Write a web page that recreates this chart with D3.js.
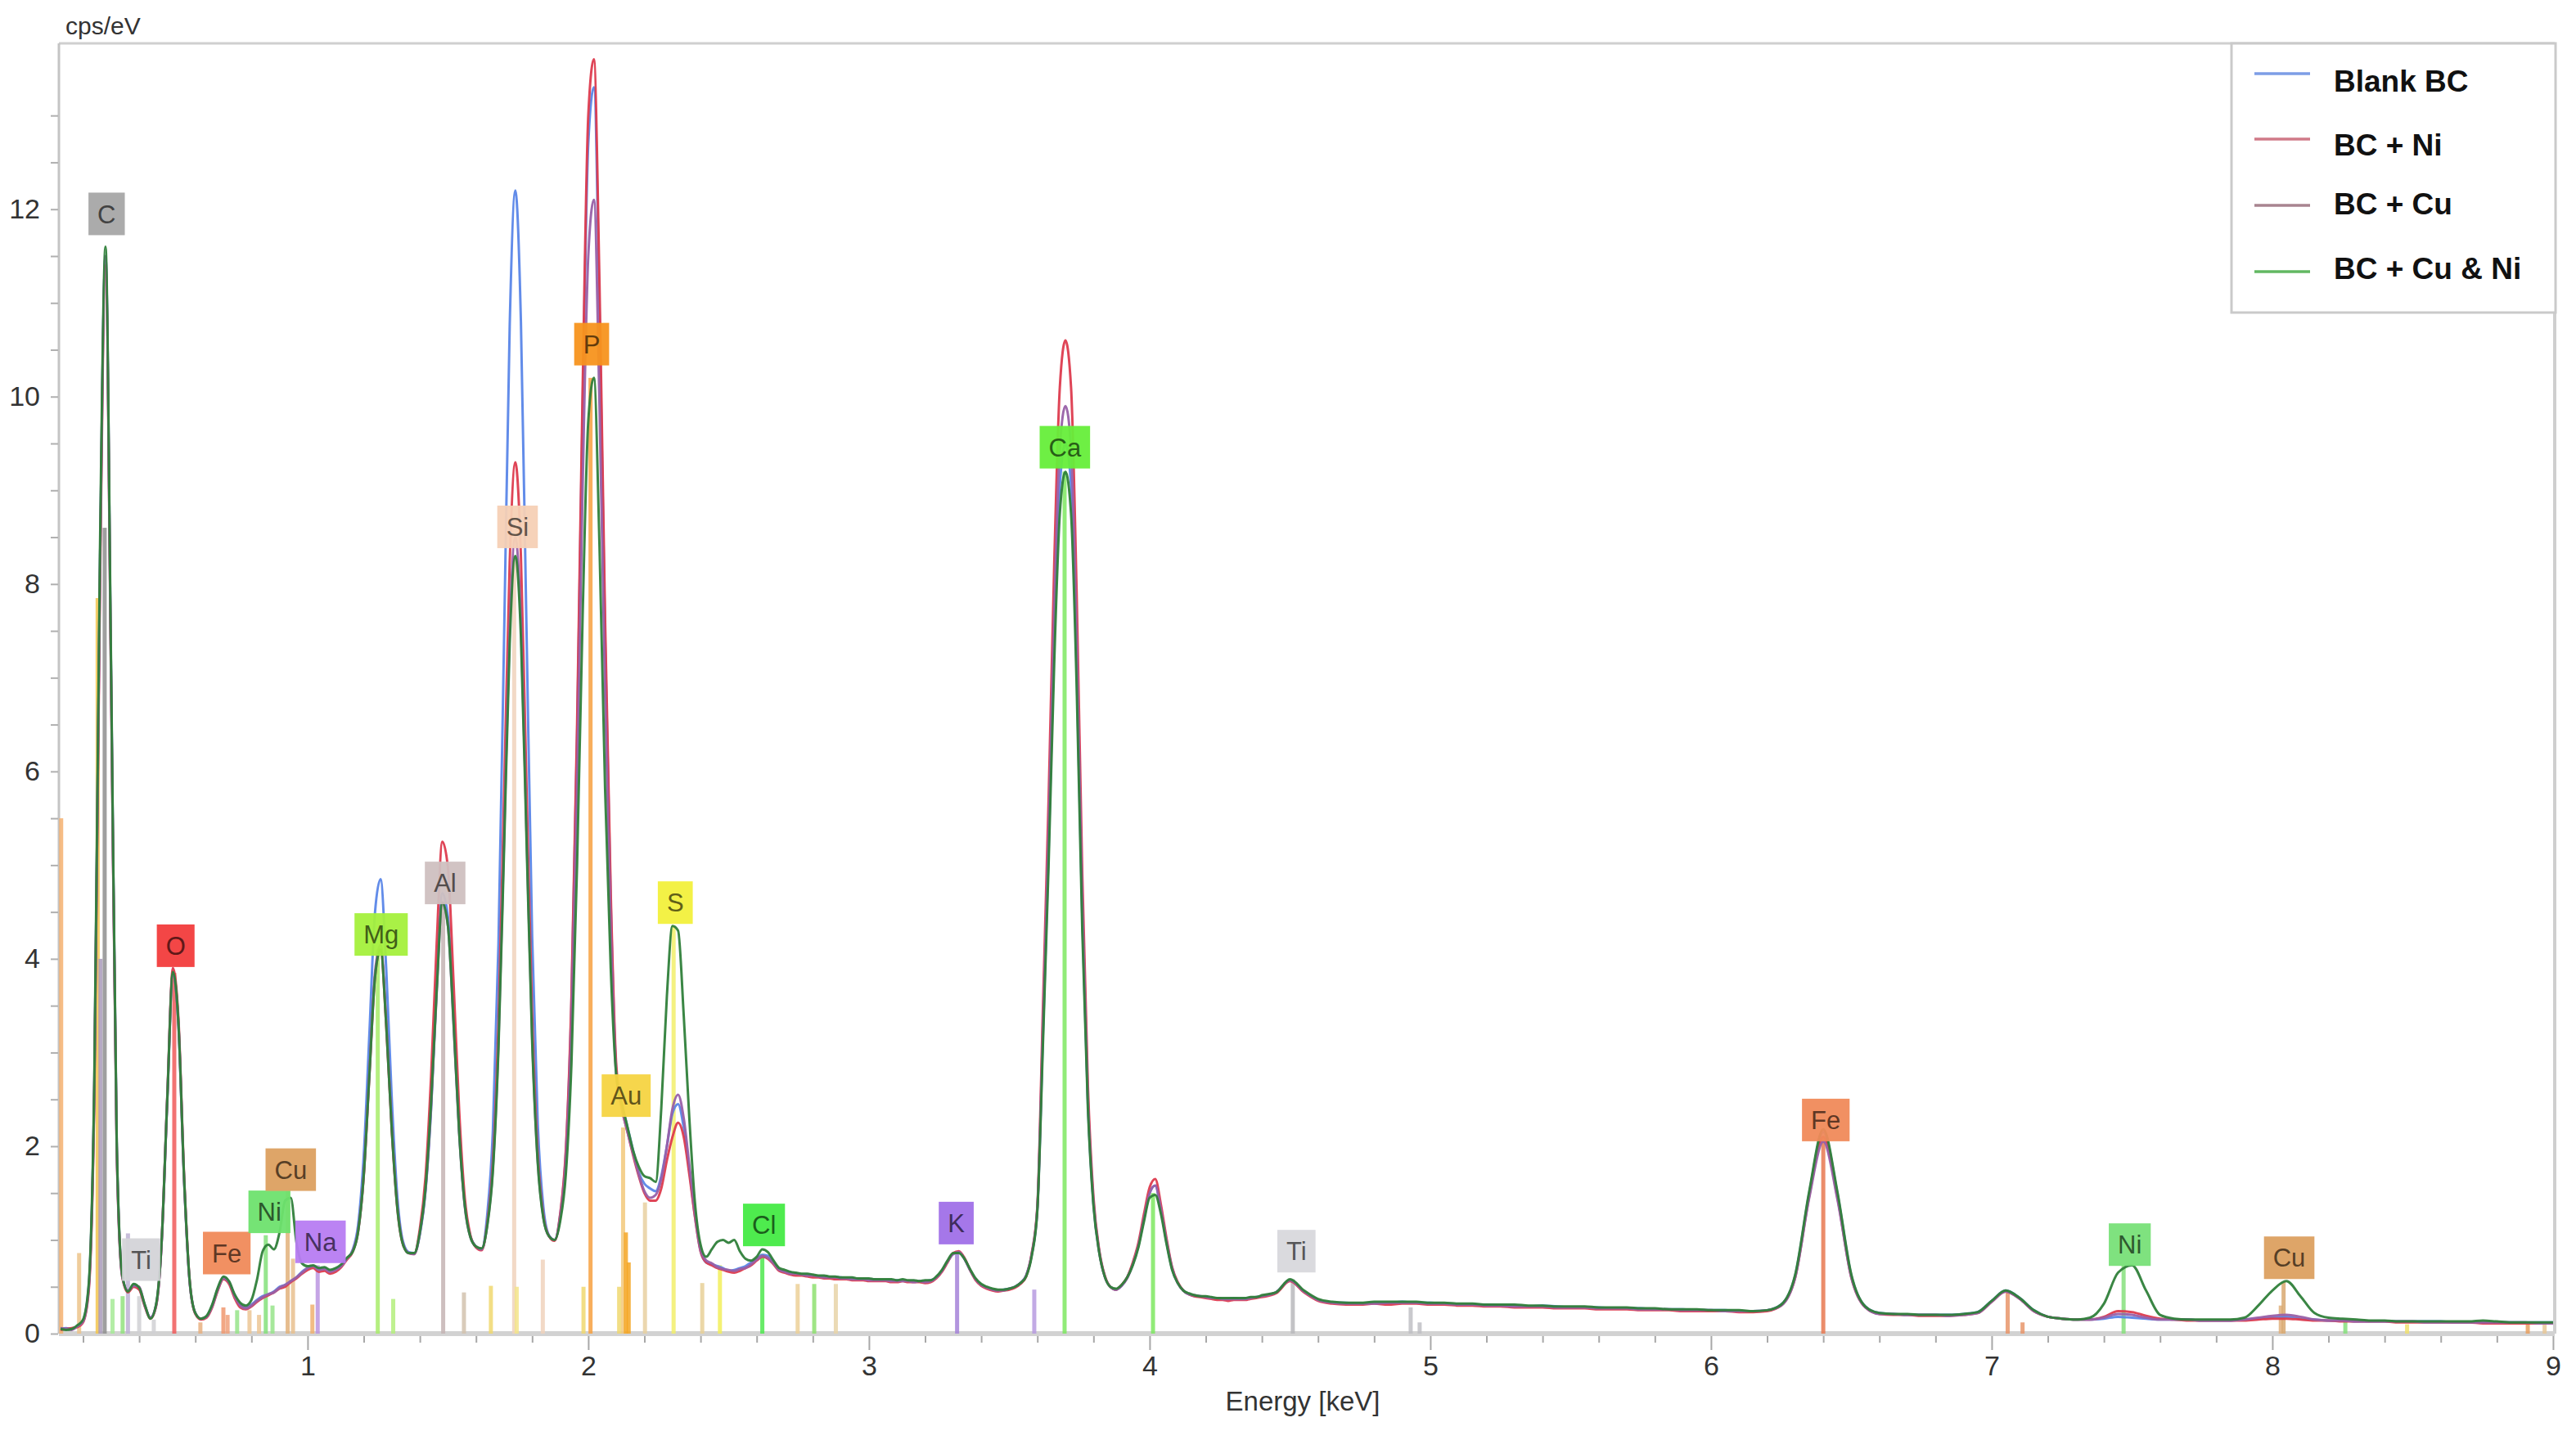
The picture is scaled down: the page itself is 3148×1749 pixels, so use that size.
<!DOCTYPE html>
<html><head><meta charset="utf-8">
<script src="https://cdn.jsdelivr.net/npm/d3@7"></script>
<style>
body{margin:0;background:#fff;}
svg{display:block;}
text{font-family:"Liberation Sans",Arial,sans-serif;}
</style>
</head><body>
<svg id="chart" width="3148" height="1749"></svg>
<script>
// ---------------- DATA ----------------
const energy = [
0.12,0.14,0.16,0.18,0.20,0.22,0.24,0.26,0.28,0.30,
0.32,0.34,0.36,0.38,0.40,0.42,0.44,0.46,0.48,0.50,
0.52,0.54,0.56,0.58,0.60,0.62,0.64,0.66,0.68,0.70,
0.72,0.74,0.76,0.78,0.80,0.82,0.84,0.86,0.88,0.90,
0.92,0.94,0.96,0.98,1.00,1.02,1.04,1.06,1.08,1.10,
1.12,1.14,1.16,1.18,1.20,1.22,1.24,1.26,1.28,1.30,
1.32,1.34,1.36,1.38,1.40,1.42,1.44,1.46,1.48,1.50,
1.52,1.54,1.56,1.58,1.60,1.62,1.64,1.66,1.68,1.70,
1.72,1.74,1.76,1.78,1.80,1.82,1.84,1.86,1.88,1.90,
1.92,1.94,1.96,1.98,2.00,2.02,2.04,2.06,2.08,2.10,
2.12,2.14,2.16,2.18,2.20,2.22,2.24,2.26,2.28,2.30,
2.32,2.34,2.36,2.38,2.40,2.42,2.44,2.46,2.48,2.50,
2.52,2.54,2.56,2.58,2.60,2.62,2.64,2.66,2.68,2.70,
2.72,2.74,2.76,2.78,2.80,2.82,2.84,2.86,2.88,2.90,
2.92,2.94,2.96,2.98,3.00,3.02,3.04,3.06,3.08,3.10,
3.12,3.14,3.16,3.18,3.20,3.22,3.24,3.26,3.28,3.30,
3.32,3.34,3.36,3.38,3.40,3.42,3.44,3.46,3.48,3.50,
3.52,3.54,3.56,3.58,3.60,3.62,3.64,3.66,3.68,3.70,
3.72,3.74,3.76,3.78,3.80,3.82,3.84,3.86,3.88,3.90,
3.92,3.94,3.96,3.98,4.00,4.02,4.04,4.06,4.08,4.10,
4.12,4.14,4.16,4.18,4.20,4.22,4.24,4.26,4.28,4.30,
4.32,4.34,4.36,4.38,4.40,
4.45,4.50,4.55,4.60,4.65,4.70,4.75,4.80,4.85,4.90,
4.95,5.00,5.05,5.10,5.15,5.20,5.25,5.30,5.35,5.40,
5.45,5.50,5.55,5.60,5.65,5.70,5.75,5.80,5.85,5.90,
5.95,6.00,6.05,6.10,6.15,6.20,6.25,6.30,6.35,6.40,
6.45,6.50,6.55,6.60,6.65,6.70,6.75,6.80,6.85,6.90,
6.95,7.00,7.05,7.10,7.15,7.20,7.25,7.30,7.35,7.40,
7.45,7.50,7.55,7.60,7.65,7.70,7.75,7.80,7.85,7.90,
7.95,8.00,8.05,8.10,8.15,8.20,8.25,8.30,8.35,8.40,
8.45,8.50,8.55,8.60,8.65,8.70,8.75,8.80,8.85,8.90,
8.95,9.00];

const blankBC = [
0.05,0.06,0.05,0.08,0.14,0.5,2.6,8.1,11.5,7.0,
2.0,0.62,0.45,0.52,0.48,0.3,0.17,0.3,0.98,2.5,
3.85,3.3,1.65,0.55,0.22,0.16,0.18,0.3,0.48,0.6,
0.55,0.41,0.31,0.28,0.31,0.36,0.4,0.42,0.45,0.5,
0.52,0.56,0.6,0.66,0.7,0.72,0.69,0.7,0.67,0.69,
0.73,0.8,0.89,1.16,1.9,3.19,4.49,4.85,3.9,2.5,
1.45,0.98,0.87,0.86,1.06,1.52,2.4,3.72,4.7,4.45,
3.38,2.18,1.38,1.04,0.93,0.9,1.27,2.16,4.16,7.42,
10.75,12.2,10.8,7.5,4.24,2.24,1.35,1.05,1.0,1.27,
1.93,3.52,6.34,9.9,12.7,13.3,10.9,7.4,4.6,2.8,
2.45,2.2,1.95,1.72,1.6,1.55,1.52,1.68,2.0,2.35,
2.45,2.2,1.75,1.25,0.88,0.76,0.74,0.72,0.7,0.67,
0.68,0.7,0.72,0.76,0.8,0.84,0.83,0.76,0.68,0.66,
0.65,0.64,0.63,0.63,0.62,0.61,0.61,0.6,0.6,0.6,
0.59,0.59,0.58,0.58,0.58,0.58,0.57,0.57,0.57,0.57,
0.57,0.56,0.56,0.56,0.56,0.57,0.6,0.67,0.77,0.85,
0.87,0.8,0.68,0.58,0.52,0.49,0.47,0.46,0.47,0.48,
0.5,0.54,0.62,0.84,1.33,3.2,5.15,7.4,9.05,9.5,
9.05,7.1,4.45,2.45,1.38,0.88,0.61,0.5,0.47,0.51,
0.6,0.74,0.94,1.23,1.5,1.58,1.32,0.98,0.69,0.54,
0.46,0.42,0.4,0.4,0.39,0.38,0.38,0.37,0.37,0.38,
0.37,0.38,0.38,0.39,0.4,
0.44,0.57,0.45,0.36,0.33,0.33,0.32,0.33,0.33,0.34,
0.33,0.33,0.32,0.31,0.31,0.31,0.3,0.3,0.29,0.3,
0.29,0.28,0.28,0.28,0.27,0.27,0.27,0.26,0.26,0.26,
0.25,0.25,0.25,0.24,0.24,0.25,0.31,0.62,1.5,2.15,
1.5,0.62,0.29,0.22,0.21,0.2,0.2,0.2,0.2,0.21,
0.23,0.35,0.46,0.38,0.25,0.18,0.16,0.15,0.15,0.16,
0.18,0.17,0.16,0.15,0.15,0.15,0.14,0.14,0.14,0.15,
0.16,0.17,0.18,0.16,0.15,0.14,0.14,0.13,0.13,0.13,
0.13,0.13,0.13,0.13,0.12,0.12,0.12,0.12,0.12,0.12,
0.12,0.12];

const bcNi = [
0.04,0.05,0.06,0.07,0.12,0.45,2.5,7.9,11.4,6.9,
1.95,0.6,0.44,0.5,0.47,0.29,0.16,0.29,0.98,2.52,
3.9,3.35,1.68,0.56,0.21,0.15,0.17,0.28,0.46,0.58,
0.53,0.38,0.28,0.26,0.29,0.34,0.38,0.41,0.44,0.48,
0.5,0.55,0.59,0.64,0.68,0.7,0.66,0.67,0.64,0.66,
0.71,0.79,0.87,1.09,1.68,2.75,3.8,4.1,3.3,2.17,
1.33,0.95,0.86,0.85,1.12,1.67,2.75,4.17,5.25,4.97,
3.75,2.38,1.45,1.05,0.92,0.89,1.18,1.84,3.33,5.75,
8.23,9.3,8.3,5.83,3.41,1.92,1.26,1.04,0.99,1.28,
1.96,3.58,6.47,10.1,13.0,13.6,11.2,7.6,4.7,2.85,
2.4,2.15,1.9,1.68,1.5,1.42,1.42,1.55,1.85,2.1,
2.25,2.1,1.7,1.25,0.88,0.76,0.73,0.7,0.68,0.66,
0.65,0.67,0.7,0.73,0.78,0.82,0.8,0.74,0.67,0.65,
0.63,0.62,0.62,0.61,0.6,0.6,0.59,0.59,0.58,0.58,
0.58,0.57,0.57,0.57,0.56,0.56,0.56,0.56,0.55,0.55,
0.56,0.55,0.55,0.55,0.54,0.55,0.59,0.66,0.76,0.86,
0.88,0.81,0.68,0.57,0.51,0.48,0.46,0.45,0.46,0.47,
0.49,0.53,0.61,0.86,1.36,3.5,5.7,8.2,10.1,10.6,
10.1,7.9,4.9,2.65,1.45,0.9,0.62,0.5,0.47,0.52,
0.6,0.76,0.97,1.28,1.56,1.65,1.38,1.02,0.71,0.55,
0.46,0.42,0.4,0.39,0.38,0.37,0.36,0.36,0.35,0.36,
0.36,0.36,0.37,0.38,0.39,
0.43,0.56,0.44,0.35,0.32,0.31,0.31,0.32,0.31,0.32,
0.32,0.31,0.31,0.3,0.3,0.29,0.29,0.28,0.28,0.28,
0.27,0.27,0.27,0.26,0.26,0.26,0.25,0.25,0.25,0.24,
0.24,0.24,0.24,0.23,0.23,0.24,0.3,0.6,1.47,2.1,
1.46,0.6,0.28,0.21,0.2,0.2,0.19,0.19,0.19,0.2,
0.22,0.34,0.45,0.37,0.24,0.18,0.16,0.15,0.15,0.18,
0.24,0.23,0.19,0.16,0.15,0.14,0.14,0.14,0.14,0.14,
0.15,0.16,0.16,0.15,0.14,0.14,0.13,0.13,0.13,0.13,
0.12,0.12,0.12,0.12,0.12,0.12,0.11,0.11,0.11,0.11,
0.11,0.11];

const bcCu = [
0.06,0.05,0.04,0.08,0.13,0.48,2.6,8.1,11.5,7.0,
2.0,0.6,0.46,0.51,0.5,0.3,0.17,0.3,0.97,2.48,
3.84,3.28,1.64,0.55,0.22,0.16,0.18,0.29,0.47,0.59,
0.55,0.4,0.3,0.27,0.3,0.35,0.39,0.42,0.44,0.49,
0.52,0.56,0.6,0.65,0.7,0.72,0.68,0.69,0.66,0.68,
0.72,0.8,0.88,1.1,1.7,2.78,3.85,4.15,3.35,2.2,
1.35,0.96,0.86,0.85,1.07,1.53,2.42,3.65,4.6,4.35,
3.3,2.14,1.36,1.03,0.93,0.9,1.16,1.76,3.1,5.29,
7.53,8.5,7.6,5.37,3.18,1.84,1.24,1.04,1.0,1.24,
1.84,3.28,5.82,9.05,11.5,12.1,9.9,6.8,4.3,2.75,
2.4,2.15,1.92,1.7,1.52,1.45,1.48,1.65,2.0,2.4,
2.55,2.3,1.8,1.3,0.9,0.78,0.75,0.71,0.69,0.68,
0.67,0.69,0.7,0.74,0.79,0.83,0.81,0.75,0.68,0.66,
0.64,0.64,0.63,0.62,0.62,0.61,0.6,0.6,0.6,0.59,
0.59,0.58,0.58,0.58,0.57,0.57,0.57,0.57,0.56,0.56,
0.56,0.56,0.55,0.56,0.55,0.56,0.6,0.67,0.77,0.85,
0.87,0.8,0.68,0.58,0.52,0.49,0.47,0.46,0.46,0.48,
0.5,0.54,0.62,0.85,1.34,3.3,5.35,7.7,9.45,9.9,
9.45,7.4,4.6,2.5,1.4,0.88,0.61,0.5,0.47,0.51,
0.59,0.74,0.94,1.23,1.5,1.58,1.33,0.99,0.7,0.54,
0.46,0.42,0.41,0.4,0.39,0.38,0.38,0.37,0.37,0.37,
0.37,0.37,0.38,0.39,0.4,
0.44,0.57,0.45,0.36,0.33,0.32,0.32,0.32,0.33,0.33,
0.33,0.32,0.32,0.31,0.31,0.3,0.3,0.29,0.29,0.29,
0.28,0.28,0.28,0.27,0.27,0.27,0.26,0.26,0.26,0.25,
0.25,0.25,0.24,0.24,0.24,0.25,0.3,0.6,1.45,2.05,
1.44,0.6,0.28,0.21,0.21,0.2,0.2,0.2,0.19,0.2,
0.22,0.34,0.45,0.37,0.24,0.18,0.16,0.15,0.15,0.17,
0.21,0.2,0.17,0.15,0.15,0.15,0.14,0.14,0.14,0.15,
0.17,0.19,0.2,0.18,0.15,0.14,0.14,0.13,0.13,0.13,
0.13,0.13,0.12,0.12,0.12,0.12,0.12,0.12,0.12,0.12,
0.11,0.11];

const bcCuNi = [
0.05,0.04,0.05,0.09,0.15,0.52,2.7,8.3,11.6,7.1,
2.05,0.62,0.45,0.53,0.49,0.31,0.16,0.31,0.99,2.5,
3.86,3.3,1.66,0.56,0.22,0.16,0.19,0.31,0.49,0.61,
0.56,0.42,0.33,0.3,0.36,0.58,0.88,0.95,0.9,1.08,
1.42,1.45,0.98,0.75,0.72,0.73,0.7,0.71,0.68,0.7,
0.74,0.81,0.87,1.09,1.69,2.75,3.8,4.1,3.3,2.17,
1.33,0.95,0.86,0.86,1.08,1.55,2.47,3.67,4.6,4.35,
3.33,2.15,1.37,1.03,0.93,0.91,1.15,1.73,3.04,5.17,
7.36,8.3,7.44,5.26,3.12,1.82,1.23,1.04,1.0,1.2,
1.7,2.88,4.99,7.67,9.74,10.2,8.4,5.8,3.9,2.75,
2.45,2.2,1.95,1.78,1.68,1.66,1.62,2.4,3.6,4.35,
4.3,3.4,2.3,1.4,0.95,0.82,0.9,0.98,1.0,0.97,
1.0,0.88,0.8,0.78,0.82,0.9,0.87,0.78,0.7,0.68,
0.66,0.65,0.64,0.64,0.63,0.62,0.62,0.61,0.61,0.6,
0.6,0.6,0.59,0.59,0.59,0.58,0.58,0.58,0.58,0.57,
0.58,0.57,0.57,0.56,0.57,0.57,0.61,0.68,0.78,0.86,
0.86,0.8,0.69,0.59,0.53,0.5,0.48,0.47,0.47,0.48,
0.5,0.54,0.61,0.83,1.32,3.1,5.0,7.15,8.75,9.2,
8.75,6.9,4.3,2.4,1.36,0.87,0.61,0.5,0.48,0.52,
0.6,0.73,0.92,1.2,1.45,1.48,1.28,0.96,0.68,0.54,
0.46,0.43,0.41,0.4,0.4,0.39,0.38,0.38,0.38,0.38,
0.38,0.38,0.39,0.39,0.41,
0.44,0.58,0.46,0.37,0.34,0.33,0.33,0.34,0.34,0.34,
0.34,0.33,0.33,0.32,0.32,0.31,0.31,0.31,0.3,0.3,
0.29,0.29,0.29,0.28,0.28,0.28,0.27,0.27,0.26,0.26,
0.26,0.25,0.25,0.25,0.24,0.25,0.31,0.63,1.52,2.18,
1.52,0.63,0.29,0.22,0.21,0.21,0.2,0.2,0.2,0.21,
0.23,0.35,0.46,0.38,0.25,0.18,0.16,0.15,0.17,0.32,
0.65,0.73,0.46,0.2,0.16,0.15,0.15,0.15,0.15,0.17,
0.3,0.46,0.56,0.4,0.22,0.17,0.16,0.15,0.14,0.14,
0.13,0.13,0.13,0.13,0.13,0.13,0.14,0.13,0.12,0.12,
0.12,0.12];

const seriesNames  = ["Blank BC", "BC + Ni", "BC + Cu", "BC + Cu & Ni"];
const seriesColors = ["#5a86e8", "#dd3b4e", "#9860a8", "#2f7f3a"];
const legendColors = ["#7d9de6", "#d07a88", "#a88490", "#62b862"];

const yTickLabels = [0, 2, 4, 6, 8, 10, 12];
const xTickLabels = [1, 2, 3, 4, 5, 6, 7, 8, 9];

// element marker lines: energy (keV), height (cps/eV), colour
const markerEnergy = [0.122,0.186,0.252,0.262,0.277,0.305,0.341,0.36,0.40,0.452,
  0.525,0.618,0.70,0.715,0.749,0.793,0.827,0.851,0.875,0.929,
  0.948,1.017,1.036,1.25,1.305,1.483,1.557,1.653,1.736,1.745,
  1.838,1.983,2.008,2.11,2.124,2.134,2.144,2.202,2.304,2.406,
  2.469,2.62,2.746,2.805,2.882,3.314,3.589,3.697,4.012,4.51,
  4.93,4.962,6.40,7.057,7.11,7.47,8.03,8.04,8.26,8.48,
  8.91,8.97];
const markerHeight = [5.5,0.86,7.85,4.0,8.6,0.37,0.4,1.07,0.4,0.15,
  3.85,0.12,0.28,0.2,0.25,0.25,0.2,1.05,0.3,1.52,
  0.8,0.31,0.73,4.1,0.37,4.6,0.44,0.51,8.3,0.5,
  0.79,0.5,10.2,0.5,2.2,1.08,0.76,1.4,4.35,0.54,
  0.73,0.85,0.53,0.53,0.53,0.87,0.47,9.2,1.5,0.58,
  0.28,0.12,2.1,0.45,0.12,0.73,0.3,0.55,0.15,0.1,
  0.1,0.1];
const markerColor = ["#f4b070","#ecc38a","#f2c54e","#a99bbb","#8e8e8e","#a6ea96","#92e27e","#bdb2d3","#d0d0d4","#d0d0d4",
  "#f05a5a","#e8b080","#f0986e","#f0a07a","#96e48a","#ecc594","#ecc594","#84e07a","#96e48a","#e2b27a",
  "#e8c08e","#eeb070","#bb95e0","#a8ec6a","#b4ee7c","#c4b4b4","#d2c2ae","#f0d870","#f0d2bc","#f3e488",
  "#f0d2bc","#f0d870","#f7a040","#f0d870","#f2c87a","#f5a623","#f5a623","#e8d0a0","#f2ee6a","#e8d098",
  "#f2ee5a","#4ee84e","#ecd098","#8ee070","#e8d4a8","#a582d8","#b79be0","#7ee860","#7ee860","#b8b8bc",
  "#c0c0c4","#c0c0c4","#e87850","#e8956a","#e8956a","#86e07c","#e0b07c","#d8a870","#86e07c","#f0e070",
  "#e8a060","#e8c898"];

// element label boxes
const labelText   = ["C","O","Ti","Fe","Ni","Cu","Na","Mg","Al","Si","P","Au","S","Cl","K","Ca","Ti","Fe","Ni","Cu"];
const labelEnergy = [0.284,0.530,0.407,0.712,0.864,0.940,1.046,1.262,1.490,1.748,2.012,2.135,2.310,2.626,3.311,3.698,4.523,6.409,7.492,8.060];
const labelLevel  = [11.95,4.14,0.79,0.86,1.30,1.75,0.98,4.26,4.81,8.61,10.56,2.54,4.60,1.16,1.18,9.46,0.88,2.28,0.95,0.81];
const labelFill   = ["#a6a6a6","#f23c3c","#d4d4d8","#f08a5a","#6ee26e","#dca060","#b77cf2","#a4f03c","#cfc0c0","#f5d0b5",
                     "#f7941e","#f5d442","#f2f03c","#44ea44","#a070e8","#66ee3a","#d8d8dc","#f08a5a","#78e078","#dca060"];

// ---------------- CHART ----------------
const W = 3148, H = 1749;
const L = 72, R = 3122, T = 53, B = 1630;
const svg = d3.select("#chart");
const x = d3.scaleLinear().domain([0.114, 9.006]).range([L, R]);
const y = d3.scaleLinear().domain([0, 13.77]).range([B, T]);

svg.append("rect").attr("width", W).attr("height", H).attr("fill", "#fff");

svg.append("defs").append("clipPath").attr("id", "plotClip")
  .append("rect").attr("x", L).attr("y", T - 2).attr("width", R - L).attr("height", B - T + 2);

// frame
svg.append("line").attr("x1", L).attr("x2", R).attr("y1", T).attr("y2", T).attr("stroke", "#cfcfcf").attr("stroke-width", 3);
svg.append("line").attr("x1", R).attr("x2", R).attr("y1", T).attr("y2", B).attr("stroke", "#cfcfcf").attr("stroke-width", 4);
svg.append("line").attr("x1", L).attr("x2", L).attr("y1", T).attr("y2", B).attr("stroke", "#c4c4c4").attr("stroke-width", 3);

// x axis ticks
const xMinor = d3.range(1, 46).map(i => +(i * 0.2).toFixed(1)).filter(v => Math.abs(v - Math.round(v)) > 1e-6 && v <= 9);
const gxMinor = svg.append("g").attr("transform", `translate(0,${B + 2})`)
  .call(d3.axisBottom(x).tickValues(xMinor).tickSize(9).tickFormat(""));
const gxMajor = svg.append("g").attr("transform", `translate(0,${B + 2})`)
  .call(d3.axisBottom(x).tickValues(xTickLabels).tickSize(18).tickPadding(7).tickFormat(d3.format("d")));
[gxMinor, gxMajor].forEach(g => {
  g.select(".domain").remove();
  g.selectAll(".tick line").attr("stroke", "#a8a8a8").attr("stroke-width", 2);
  g.selectAll(".tick text").attr("font-size", 34).attr("fill", "#333");
});

// y axis ticks
const yMinor = d3.range(0, 27).map(i => i * 0.5);
const gyMinor = svg.append("g").attr("transform", `translate(${L - 1},0)`)
  .call(d3.axisLeft(y).tickValues(yMinor).tickSize(9).tickFormat(""));
const gyMajor = svg.append("g").attr("transform", `translate(${L - 1},0)`)
  .call(d3.axisLeft(y).tickValues(yTickLabels).tickSize(0).tickPadding(22).tickFormat(d3.format("d")));
[gyMinor, gyMajor].forEach(g => {
  g.select(".domain").remove();
  g.selectAll(".tick line").attr("stroke", "#b0b0b0").attr("stroke-width", 2);
  g.selectAll(".tick text").attr("font-size", 34).attr("fill", "#333");
});

// bottom axis bar
svg.append("line").attr("x1", L).attr("x2", R).attr("y1", B).attr("y2", B).attr("stroke", "#d2d2d2").attr("stroke-width", 6);

// axis titles
svg.append("text").attr("x", 80).attr("y", 42).attr("font-size", 30).attr("fill", "#333").text("cps/eV");
svg.append("text").attr("x", 1592).attr("y", 1724).attr("text-anchor", "middle").attr("font-size", 33).attr("fill", "#333").text("Energy [keV]");

// plot content
const plot = svg.append("g").attr("clip-path", "url(#plotClip)");

// element marker bars
plot.append("g").selectAll("rect").data(markerEnergy).join("rect")
  .attr("x", (d) => x(d) - 2.5)
  .attr("width", 5)
  .attr("y", (d, i) => y(markerHeight[i]))
  .attr("height", (d, i) => y(0) - y(markerHeight[i]))
  .attr("fill", (d, i) => markerColor[i])
  .attr("opacity", 0.85);

// spectra
const allSeries = [blankBC, bcNi, bcCu, bcCuNi];
const line = d3.line().curve(d3.curveMonotoneX)
  .x((d, i) => x(energy[i])).y(d => y(d));
allSeries.forEach((vals, k) => {
  plot.append("path").datum(vals.slice(0, energy.length))
    .attr("d", line)
    .attr("fill", "none")
    .attr("stroke", seriesColors[k])
    .attr("stroke-width", 3)
    .attr("stroke-linejoin", "round")
    .attr("opacity", 0.95);
});

// element labels
const lab = svg.append("g").selectAll("g").data(labelText).join("g")
  .attr("transform", (d, i) => `translate(${x(labelEnergy[i])},${y(labelLevel[i])})`);
lab.each(function (d, i) {
  const g = d3.select(this);
  const rect = g.append("rect").attr("fill", labelFill[i]).attr("opacity", 0.95);
  const t = g.append("text").attr("text-anchor", "middle").attr("dy", "0.36em")
    .attr("font-size", 31).attr("fill", d3.color(labelFill[i]).darker(2.6)).text(d);
  const w = t.node().getComputedTextLength() + 22;
  rect.attr("x", -w / 2).attr("y", -26).attr("width", w).attr("height", 52);
});

// legend
const lg = svg.append("g");
lg.append("rect").attr("x", 2727).attr("y", T).attr("width", 396).attr("height", 329)
  .attr("fill", "#fff").attr("stroke", "#cacaca").attr("stroke-width", 3);
const legendLineY = [90, 170, 251, 332];
const legendTextY = [99, 177, 249, 328];
seriesNames.forEach((name, k) => {
  lg.append("line").attr("x1", 2755).attr("x2", 2823).attr("y1", legendLineY[k]).attr("y2", legendLineY[k])
    .attr("stroke", legendColors[k]).attr("stroke-width", 3.5);
  lg.append("text").attr("x", 2852).attr("y", legendTextY[k]).attr("dy", "0.36em")
    .attr("font-size", 37).attr("font-weight", "bold").attr("fill", "#111").text(name);
});
</script>
</body></html>
